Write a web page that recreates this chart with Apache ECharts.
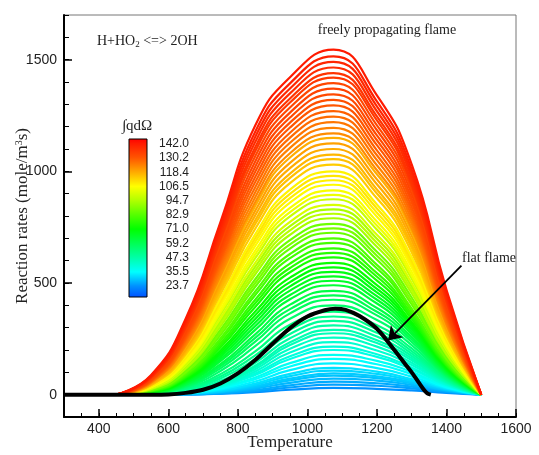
<!DOCTYPE html>
<html>
<head>
<meta charset="utf-8">
<script src="https://cdn.jsdelivr.net/npm/echarts@6/dist/echarts.min.js"></script>
<style>
  html, body { margin: 0; padding: 0; background: #fff; }
  #chart { width: 539px; height: 455px; }
</style>
</head>
<body>
<div id="chart"></div>
<script>
// Temperature grid (K) on which every freely propagating flame curve is sampled
const temps = [450, 550, 650, 750, 850, 950, 1075, 1200, 1300, 1400, 1500];

// Integrated heat release of each freely propagating flame (colour variable)
const qdOmega = [
  23.7, 25.4, 26.6, 27.9, 29.1, 30.0, 31.2, 32.3, 34.1, 35.8,
  37.2, 39.0, 40.2, 41.8, 43.4, 45.0, 46.2, 47.9, 49.7, 51.4,
  53.4, 55.9, 58.1, 59.8, 61.5, 63.6, 65.2, 66.9, 68.5, 70.2,
  71.9, 74.2, 76.1, 77.9, 80.2, 82.1, 85.0, 87.6, 86.0, 93.5,
  96.1, 94.0, 100.7, 98.5, 103.9, 105.4, 107.1, 108.6, 110.0, 108.0,
  113.6, 115.3, 116.6, 118.1, 119.7, 118.0, 122.5, 124.1, 125.6, 127.2,
  128.8, 130.2, 131.4, 132.6, 133.8, 133.0, 136.1, 137.1, 138.2, 139.4,
  140.6, 142.0
];

// Reaction rate of H+HO2 <=> 2OH (mole/m^3 s) for each flame, one row per flame
const rates = [
  [0,0,1,4,11,22,30,26,19,8,0],
  [0,0,1,5,16,32,45,40,28,12,0],
  [0,0,1,7,20,42,58,51,36,15,0],
  [0,0,2,10,27,53,72,63,44,18,0],
  [0,0,3,12,33,64,85,74,51,20,0],
  [0,0,3,14,38,72,95,82,56,22,0],
  [0,0,4,17,44,83,108,93,63,25,0],
  [0,0,5,20,50,93,120,103,70,27,0],
  [0,0,6,24,59,110,140,119,81,30,0],
  [0,0,7,28,69,126,160,136,92,34,0],
  [0,0,8,32,77,141,178,151,102,37,0],
  [0,0,9,36,88,160,200,169,114,42,0],
  [0,0,10,39,95,172,215,181,122,44,0],
  [0,0,11,44,104,189,235,198,133,48,0],
  [0,0,12,48,114,206,255,215,143,52,0],
  [0,0,14,52,123,222,275,231,154,55,0],
  [0,0,14,55,130,235,290,244,163,58,0],
  [0,0,17,62,143,253,310,260,173,62,0],
  [0,1,21,72,160,272,330,277,184,67,0],
  [0,2,25,81,176,291,350,293,195,71,0],
  [0,3,29,92,194,313,372,311,207,76,0],
  [0,4,34,106,217,340,400,334,222,82,0],
  [0,5,39,118,237,364,425,355,236,87,0],
  [0,6,43,128,254,383,445,371,247,92,0],
  [0,7,46,137,270,403,465,388,258,96,0],
  [0,8,51,150,290,427,490,408,271,101,0],
  [0,9,55,159,307,446,510,425,282,106,0],
  [0,10,59,169,323,466,530,441,293,110,0],
  [0,11,63,179,339,485,550,458,304,114,0],
  [0,12,66,189,356,504,570,474,315,119,0],
  [0,13,70,198,372,524,590,491,325,123,0],
  [0,14,75,211,393,548,615,511,339,129,0],
  [0,15,79,220,409,567,635,528,350,133,0],
  [0,16,82,230,425,587,655,544,361,137,0],
  [0,17,87,242,446,611,680,565,374,143,0],
  [0,18,91,252,462,630,700,581,385,147,0],
  [0,19,98,267,483,654,725,604,404,156,0],
  [0,21,103,279,500,673,745,622,419,163,0],
  [0,22,109,291,517,692,765,640,435,170,0],
  [0,24,116,306,539,716,790,662,454,179,0],
  [0,26,121,318,556,736,810,680,469,186,0],
  [0,27,127,330,573,755,830,698,485,193,0],
  [0,28,132,342,590,774,850,716,500,200,0],
  [0,30,139,357,611,798,875,739,519,209,0],
  [0,32,144,369,628,817,895,757,534,216,0],
  [0,33,150,381,645,836,915,775,550,223,0],
  [0,35,157,396,666,860,940,797,569,232,0],
  [0,36,162,408,684,880,960,815,584,239,0],
  [0,38,168,420,701,899,980,834,599,246,0],
  [0,39,173,432,718,918,1000,852,615,253,0],
  [0,42,181,450,743,947,1030,879,638,264,0],
  [0,43,188,465,764,971,1055,901,657,273,0],
  [0,45,194,477,781,990,1075,919,672,280,0],
  [0,47,201,492,803,1014,1100,942,691,289,0],
  [0,49,207,507,824,1038,1125,964,711,297,0],
  [0,50,214,522,845,1062,1150,987,730,306,0],
  [0,52,220,534,862,1081,1170,1005,745,313,0],
  [0,54,227,549,884,1105,1195,1027,764,322,0],
  [0,56,234,565,906,1128,1220,1050,783,332,0],
  [0,58,243,581,929,1151,1245,1072,802,343,0],
  [0,61,251,597,952,1173,1270,1094,821,354,0],
  [0,63,259,613,975,1196,1295,1117,840,364,0],
  [0,65,267,629,998,1218,1320,1139,860,375,0],
  [0,68,275,645,1021,1241,1345,1161,878,385,0],
  [0,70,283,661,1044,1263,1370,1184,898,396,0],
  [0,72,291,677,1067,1286,1395,1206,917,407,0],
  [0,75,299,693,1090,1308,1420,1228,936,417,0],
  [0,77,306,706,1108,1326,1440,1246,951,426,0],
  [0,79,314,722,1131,1349,1465,1269,970,436,0],
  [0,81,322,738,1154,1371,1490,1291,989,447,0],
  [0,84,330,754,1177,1394,1515,1313,1008,457,0],
  [0,87,340,773,1205,1421,1545,1340,1031,470,0]
];

// Flat flame profile
const flatTemps = [300, 550, 600, 650, 700, 750, 800, 850, 900, 950, 1000, 1050, 1080, 1110, 1150, 1200, 1250, 1280, 1300, 1320, 1335, 1345, 1355];
const flatRates = [0, 0, 1, 8, 22, 50, 95, 155, 228, 298, 350, 378, 385, 380, 352, 295, 200, 140, 100, 55, 22, 6, 0];

// Arrow pointing at the flat flame curve (data units: temperature, rate)
const arrowFrom = [1443, 578];
const arrowTo = [1232, 243];

// Axis ticks
const xMajorTicks = [400, 600, 800, 1000, 1200, 1400, 1600];
const yMajorTicks = [0, 500, 1000, 1500];

// Colour bar labels
const colorbarTicks = [142.0, 130.2, 118.4, 106.5, 94.7, 82.9, 71.0, 59.2, 47.3, 35.5, 23.7];

// Rainbow colour map used by the legend bar and the curves
const cbMin = 14.3, cbMax = 146.2;
const colorStops = [
  [14.3, '#0050ff'], [23.7, '#0090ff'], [35.5, '#00ffff'], [47.3, '#00ffa8'],
  [59.2, '#00ff55'], [71.0, '#00ff00'], [82.9, '#55ff00'], [94.7, '#b0ff00'],
  [106.5, '#ffff00'], [118.4, '#ffaa00'], [130.2, '#ff5500'], [142.0, '#ff1a00'],
  [146.2, '#ff0000']
];
function hexToRgb(h) {
  return [parseInt(h.slice(1, 3), 16), parseInt(h.slice(3, 5), 16), parseInt(h.slice(5, 7), 16)];
}
function colorFor(v) {
  if (v <= colorStops[0][0]) return colorStops[0][1];
  for (let i = 1; i < colorStops.length; i++) {
    if (v <= colorStops[i][0]) {
      const a = colorStops[i - 1], b = colorStops[i];
      const f = (v - a[0]) / (b[0] - a[0]);
      const ca = hexToRgb(a[1]), cb = hexToRgb(b[1]);
      const c = ca.map((x, k) => Math.round(x + (cb[k] - x) * f));
      return 'rgb(' + c.join(',') + ')';
    }
  }
  return colorStops[colorStops.length - 1][1];
}

const chart = echarts.init(document.getElementById('chart'), null, { renderer: 'canvas' });

const series = rates.map((row, k) => ({
  type: 'line',
  data: temps.map((t, i) => [t, row[i]]),
  smooth: 0.5,
  showSymbol: false,
  silent: true,
  z: 2,
  lineStyle: { width: 2.2, color: colorFor(qdOmega[k]) }
}));

series.push({
  type: 'line',
  data: flatTemps.map((t, i) => [t, flatRates[i]]),
  smooth: 0.3,
  showSymbol: false,
  silent: true,
  z: 5,
  lineStyle: { width: 4, color: '#000' },
  markLine: {
    silent: true,
    animation: false,
    symbol: ['none', 'arrow'],
    symbolSize: 13,
    label: { show: false },
    lineStyle: { color: '#000', width: 1.8, type: 'solid' },
    data: [[{ coord: arrowFrom }, { coord: arrowTo }]]
  }
});

// Colour bar geometry (pixels)
const cbLeft = 129, cbTop = 139, cbWidth = 18, cbHeight = 158;
function cbY(v) { return cbTop + (cbMax - v) / (cbMax - cbMin) * cbHeight; }

const graphics = [
  {
    type: 'rect',
    shape: { x: cbLeft, y: cbTop, width: cbWidth, height: cbHeight },
    style: {
      fill: new echarts.graphic.LinearGradient(0, 1, 0, 0,
        colorStops.map(s => ({ offset: (s[0] - cbMin) / (cbMax - cbMin), color: s[1] }))),
      stroke: '#000', lineWidth: 1
    },
    z: 10
  },
  {
    type: 'text',
    x: 122, y: 126,
    style: { text: '\u222Bqd\u03A9', fontFamily: 'Liberation Serif', fontSize: 15, fill: '#222', verticalAlign: 'middle' },
    z: 10
  },
  {
    type: 'text',
    x: 97, y: 41,
    style: {
      text: 'H+HO{sub|2} <=> 2OH',
      fontFamily: 'Liberation Serif', fontSize: 14, fill: '#222', verticalAlign: 'middle',
      rich: { sub: { fontFamily: 'Liberation Serif', fontSize: 9, fill: '#222', verticalAlign: 'bottom', padding: [7, 0, 0, 0] } }
    },
    z: 10
  },
  {
    type: 'text',
    x: 387, y: 30,
    style: { text: 'freely propagating flame', fontFamily: 'Liberation Serif', fontSize: 14, fill: '#222', align: 'center', verticalAlign: 'middle' },
    z: 10
  },
  {
    type: 'text',
    x: 462, y: 258,
    style: { text: 'flat flame', fontFamily: 'Liberation Serif', fontSize: 14, fill: '#222', verticalAlign: 'middle' },
    z: 10
  }
];
colorbarTicks.forEach(v => {
  graphics.push({
    type: 'text',
    x: 189, y: cbY(v),
    style: { text: v.toFixed(1), fontFamily: 'Liberation Sans', fontSize: 12, fill: '#222', align: 'right', verticalAlign: 'middle' },
    z: 10
  });
});

const plain = v => String(v);

const option = {
  animation: false,
  backgroundColor: '#fff',
  grid: {
    left: 64, top: 15, right: 23, bottom: 38,
    outerBoundsMode: 'none', containLabel: false,
    show: true, borderColor: '#777', borderWidth: 1
  },
  xAxis: [
    {
      // minor ticks every 50 K, labels on the major values
      type: 'value', min: 300, max: 1600, interval: 50, position: 'bottom',
      name: 'Temperature', nameLocation: 'middle', nameGap: 17, nameMoveOverlap: false,
      nameTextStyle: { fontFamily: 'Liberation Serif', fontSize: 17, color: '#222' },
      axisLine: { show: true, onZero: false, lineStyle: { color: '#000', width: 2 } },
      axisTick: { show: true, inside: true, length: 4, lineStyle: { color: '#000', width: 1 } },
      axisLabel: { customValues: xMajorTicks, formatter: plain, fontFamily: 'Liberation Sans', fontSize: 14, color: '#222', margin: 5 },
      splitLine: { show: false }
    },
    {
      // long major ticks
      type: 'value', min: 300, max: 1600, position: 'bottom',
      axisLine: { show: false, onZero: false },
      axisTick: { show: true, inside: true, length: 8, customValues: xMajorTicks, lineStyle: { color: '#000', width: 1.5 } },
      axisLabel: { show: false },
      splitLine: { show: false }
    }
  ],
  yAxis: [
    {
      type: 'value', min: -100, max: 1700, interval: 100, position: 'left',
      name: 'Reaction rates (mole/m{sup|3}s)', nameLocation: 'middle', nameGap: 33, nameMoveOverlap: false,
      nameTextStyle: {
        fontFamily: 'Liberation Serif', fontSize: 17, color: '#222',
        rich: { sup: { fontFamily: 'Liberation Serif', fontSize: 10, color: '#222', verticalAlign: 'top', padding: [0, 0, 6, 0] } }
      },
      axisLine: { show: true, onZero: false, lineStyle: { color: '#000', width: 2 } },
      axisTick: { show: true, inside: true, length: 5, lineStyle: { color: '#000', width: 1 } },
      axisLabel: { customValues: yMajorTicks, formatter: plain, fontFamily: 'Liberation Sans', fontSize: 14, color: '#222', margin: 7 },
      splitLine: { show: false }
    },
    {
      type: 'value', min: -100, max: 1700, position: 'left',
      axisLine: { show: false, onZero: false },
      axisTick: { show: true, inside: true, length: 8, customValues: yMajorTicks, lineStyle: { color: '#000', width: 1.5 } },
      axisLabel: { show: false },
      splitLine: { show: false }
    }
  ],
  series: series,
  graphic: graphics
};

chart.setOption(option);
</script>
</body>
</html>
